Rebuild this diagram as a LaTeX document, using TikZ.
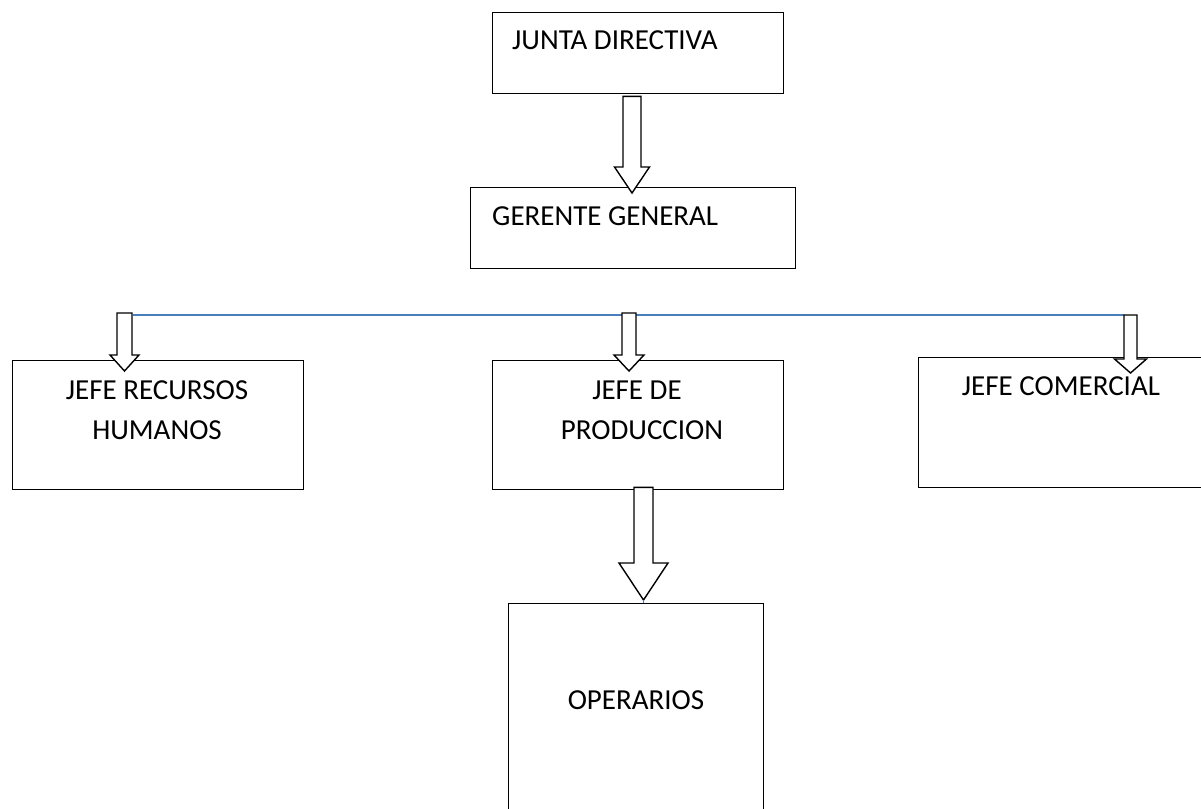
\documentclass[tikz,border=0pt]{standalone}
\usepackage{fontspec}
\setmainfont{Carlito}
\usetikzlibrary{calc}

\tikzset{
  orgbox/.style={draw=black, fill=white, line width=1.3pt, rectangle, inner sep=0pt, anchor=north west},
  label/.style={inner sep=0pt, font=\fontsize{29}{35}\selectfont, text=black},
  arrowbody/.style={draw=black, fill=white, line width=1.4pt, line join=miter},
  busline/.style={draw=busblue, line width=1.5pt}
}
\definecolor{busblue}{HTML}{4A7EBB}

% hollow block arrow: #1 shaft top, #2 tip, #3 shaft half width, #4 head half width, #5 head length
\newcommand{\blockarrow}[5]{%
  \draw[arrowbody] let \p1=(#1), \p2=(#2) in
    (\x1-#3,\y1) -- (\x1+#3,\y1) -- (\x1+#3,\y2+#5) -- (\x1+#4,\y2+#5)
    -- (\x2,\y2) -- (\x1-#4,\y2+#5) -- (\x1-#3,\y2+#5) -- cycle;}

\begin{document}
\begin{tikzpicture}[x=1pt, y=-1pt]
  \useasboundingbox (0,0) rectangle (1201,808);
  \clip (0,0) rectangle (1201,808);

  % boxes
  \node[orgbox, minimum width=291pt, minimum height=81pt] (junta) at (492,12) {};
  \node[orgbox, minimum width=325pt, minimum height=81pt] (gerente) at (470,187) {};
  \node[orgbox, minimum width=291pt, minimum height=129pt] (rrhh) at (12,360) {};
  \node[orgbox, minimum width=291pt, minimum height=129pt] (prod) at (492,360) {};
  \node[orgbox, minimum width=300pt, minimum height=130pt] (comercial) at (918,357) {};
  \node[orgbox, minimum width=255pt, minimum height=230pt] (operarios) at (508,603) {};

  % texts
  \node[label, anchor=base west] (tjunta) at (512,50) {JUNTA DIRECTIVA};
  \node[label, anchor=base west] (tgerente) at (492,225) {GERENTE GENERAL};
  \node[label, anchor=base] (trrhh1) at (157,399) {JEFE RECURSOS};
  \node[label, anchor=base] (trrhh2) at (157,439) {HUMANOS};
  \node[label, anchor=base] (tprod1) at (637,399) {JEFE DE};
  \node[label, anchor=base] (tprod2) at (642,439) {PRODUCCION};
  \node[label, anchor=base] (tcom) at (1061,395) {JEFE COMERCIAL};
  \node[label, anchor=base] (toper) at (636,709) {OPERARIOS};

  % horizontal distribution line
  \coordinate (busL) at (133,315);
  \coordinate (busR) at (1124,315);
  \draw[busline] (busL) -- (busR);

  % arrow anchor points
  \coordinate (a1s) at ($(junta.south -| 632,0)+(0,2)$);
  \coordinate (a1t) at (632,193);
  \coordinate (a2s) at (124.5,313);
  \coordinate (a2t) at (124.5,371);
  \coordinate (a3s) at (629,313);
  \coordinate (a3t) at (629,371);
  \coordinate (a4s) at (1130.5,315);
  \coordinate (a4t) at (1130.5,373);
  \coordinate (a5s) at ($(prod.south -| 643.5,0)+(0,-3)$);
  \coordinate (a5t) at (643.5,600);

  % block arrows
  \blockarrow{a1s}{a1t}{9pt}{17.5pt}{26pt}
  \blockarrow{a2s}{a2t}{7.5pt}{14.5pt}{16pt}
  \blockarrow{a3s}{a3t}{7pt}{15pt}{16pt}
  \blockarrow{a4s}{a4t}{6.5pt}{16pt}{14pt}
  \blockarrow{a5s}{a5t}{9.5pt}{24.5pt}{37pt}

  % small tick where the lower arrow meets the box
  \draw[busline, line width=1pt] (a5t) -- (operarios.north -| a5t);
\end{tikzpicture}
\end{document}
